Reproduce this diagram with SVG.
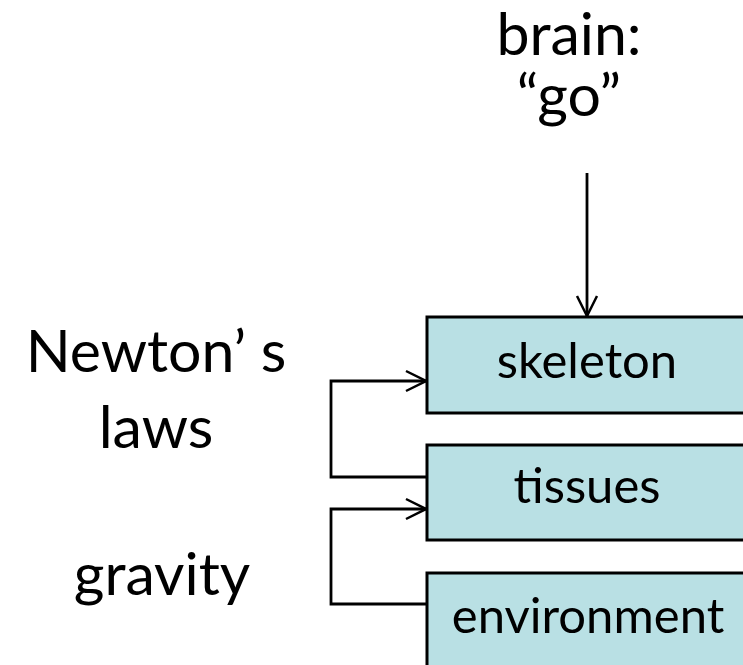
<svg xmlns="http://www.w3.org/2000/svg" width="743" height="665" viewBox="0 0 743 665">
  <defs>
    <marker id="arrow" markerWidth="24" markerHeight="24" refX="22" refY="12" orient="auto" markerUnits="userSpaceOnUse">
      <path d="M2,2 L22,12 L2,22" fill="none" stroke="#000" stroke-width="2.5"/>
    </marker>
  </defs>
  <style>
    .box { fill: #b9e0e4; stroke: #000; stroke-width: 3; }
    .lbl { font-family: Lato, "Open Sans", sans-serif; fill: #000; text-anchor: middle; }
    .big { font-size: 59px; }
    .mid { font-size: 49px; }
    .wire { fill: none; stroke: #000; stroke-width: 2.8; }
  </style>
  <rect width="743" height="665" fill="#fff"/>

  <g id="brain">
    <text class="lbl big" x="569" y="55">brain:</text>
    <text class="lbl big" x="569" y="116">“go”</text>
  </g>
  <g id="newtons-laws">
    <text class="lbl big" x="156" y="372">Newton’ s</text>
    <text class="lbl big" x="156" y="448">laws</text>
  </g>
  <g id="gravity">
    <text class="lbl big" x="162" y="595">gravity</text>
  </g>

  <g id="skeleton">
    <rect class="box" x="427" y="317" width="330" height="96"/>
    <text class="lbl mid" x="587" y="378">skeleton</text>
  </g>
  <g id="tissues">
    <rect class="box" x="427" y="445" width="330" height="95"/>
    <text class="lbl mid" x="587" y="503">tissues</text>
  </g>
  <g id="environment">
    <rect class="box" x="427" y="573" width="330" height="110"/>
    <text class="lbl mid" x="588" y="633">environment</text>
  </g>

  <g id="connectors">
    <path class="wire" d="M587,173 L587,316" marker-end="url(#arrow)"/>
    <path class="wire" d="M427,477 L331,477 L331,381 L426,381" marker-end="url(#arrow)"/>
    <path class="wire" d="M427,604 L331,604 L331,509 L426,509" marker-end="url(#arrow)"/>
  </g>
</svg>
